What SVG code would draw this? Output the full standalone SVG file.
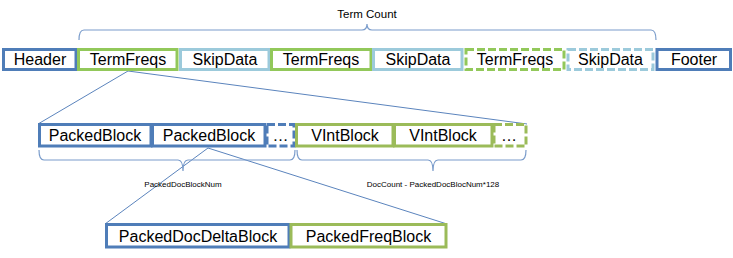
<svg xmlns="http://www.w3.org/2000/svg" width="733" height="258" viewBox="0 0 733 258">
  <style>
    .box { fill: #ffffff; stroke-width: 3; }
    .blue { stroke: #4f7db8; }
    .green { stroke: #92c85a; }
    .olive { stroke: #9bbb59; }
    .light { stroke: #9ccadb; }
    .dash { stroke-dasharray: 8 3; }
    .lbl { font-family: "Liberation Sans", Arial, sans-serif; font-size: 16px; fill: #000000; text-anchor: middle; }
    .small { font-family: "Liberation Sans", Arial, sans-serif; font-size: 8px; fill: #000000; text-anchor: middle; }
    .note { font-family: "Liberation Sans", Arial, sans-serif; font-size: 11.5px; fill: #000000; text-anchor: middle; }
    .link { fill: none; stroke: #5b84bd; stroke-width: 1; }
    .brace { fill: none; stroke: #7a9ccb; stroke-width: 1.2; }
  </style>

  <!-- connectors and braces -->
  <g id="connectors">
    <line class="link" x1="128" y1="71" x2="38" y2="124"/>
    <line class="link" x1="128" y1="71" x2="527" y2="124"/>
    <line class="link" x1="208" y1="148" x2="105" y2="224"/>
    <line class="link" x1="208" y1="148" x2="447" y2="224"/>
    <path class="brace" d="M79,40 Q79,30 84,30 L362,30 Q367,30 367,24 Q367,30 372,30 L651,30 Q656,30 656,40"/>
    <path class="brace" d="M39,150 Q39,160 44,160 L178,160 Q183,160 183,171 Q183,160 188,160 L290,160 Q295,160 295,150"/>
    <path class="brace" d="M297,150 Q297,160 302,160 L428,160 Q433,160 433,171 Q433,160 438,160 L521,160 Q526,160 526,150"/>
  </g>

  <text class="note" x="367" y="18">Term Count</text>
  <text class="small" x="183" y="187">PackedDocBlockNum</text>
  <text class="small" x="433" y="187">DocCount - PackedDocBlocNum*128</text>

  <!-- top row -->
  <g id="header"><rect class="box blue" x="3.5" y="49.5" width="72.5" height="20"/><text class="lbl" x="40" y="65">Header</text></g>
  <g id="termfreqs1"><rect class="box green" x="78.5" y="49.5" width="98.5" height="20"/><text class="lbl" x="128" y="65">TermFreqs</text></g>
  <g id="skipdata1"><rect class="box light" x="180.5" y="49.5" width="88.5" height="20"/><text class="lbl" x="225" y="65">SkipData</text></g>
  <g id="termfreqs2"><rect class="box green" x="271.5" y="49.5" width="99.5" height="20"/><text class="lbl" x="321" y="65">TermFreqs</text></g>
  <g id="skipdata2"><rect class="box light" x="373.5" y="49.5" width="88.5" height="20"/><text class="lbl" x="418" y="65">SkipData</text></g>
  <g id="termfreqs3"><rect class="box green dash" x="466" y="49.5" width="98" height="20"/><text class="lbl" x="515" y="65">TermFreqs</text></g>
  <g id="skipdata3"><rect class="box light dash" x="568" y="49.5" width="85" height="20"/><text class="lbl" x="610.5" y="65">SkipData</text></g>
  <g id="footer"><rect class="box blue" x="657" y="49.5" width="73.5" height="20"/><text class="lbl" x="694" y="65">Footer</text></g>

  <!-- middle row -->
  <g id="packedblock1"><rect class="box blue" x="39.5" y="124.5" width="111.5" height="21.5"/><text class="lbl" x="95" y="141">PackedBlock</text></g>
  <g id="packedblock2"><rect class="box blue" x="152.5" y="124.5" width="112.5" height="21.5"/><text class="lbl" x="209" y="141">PackedBlock</text></g>
  <g id="packedmore"><rect class="box blue dash" x="267" y="124.5" width="27" height="21.5"/><text class="lbl" x="280.5" y="141">…</text></g>
  <g id="vintblock1"><rect class="box olive" x="296.5" y="124.5" width="96.5" height="21.5"/><text class="lbl" x="345" y="141">VIntBlock</text></g>
  <g id="vintblock2"><rect class="box olive" x="394.5" y="124.5" width="97.5" height="21.5"/><text class="lbl" x="443" y="141">VIntBlock</text></g>
  <g id="vintmore"><rect class="box olive dash" x="494" y="124.5" width="32" height="21.5"/><text class="lbl" x="509" y="141">…</text></g>

  <!-- bottom row -->
  <g id="packeddocdelta"><rect class="box blue" x="106.5" y="224.5" width="182.5" height="22.5"/><text class="lbl" x="198" y="241.5">PackedDocDeltaBlock</text></g>
  <g id="packedfreq"><rect class="box olive" x="291" y="224.5" width="155" height="22.5"/><text class="lbl" x="368.5" y="241.5">PackedFreqBlock</text></g>
</svg>
